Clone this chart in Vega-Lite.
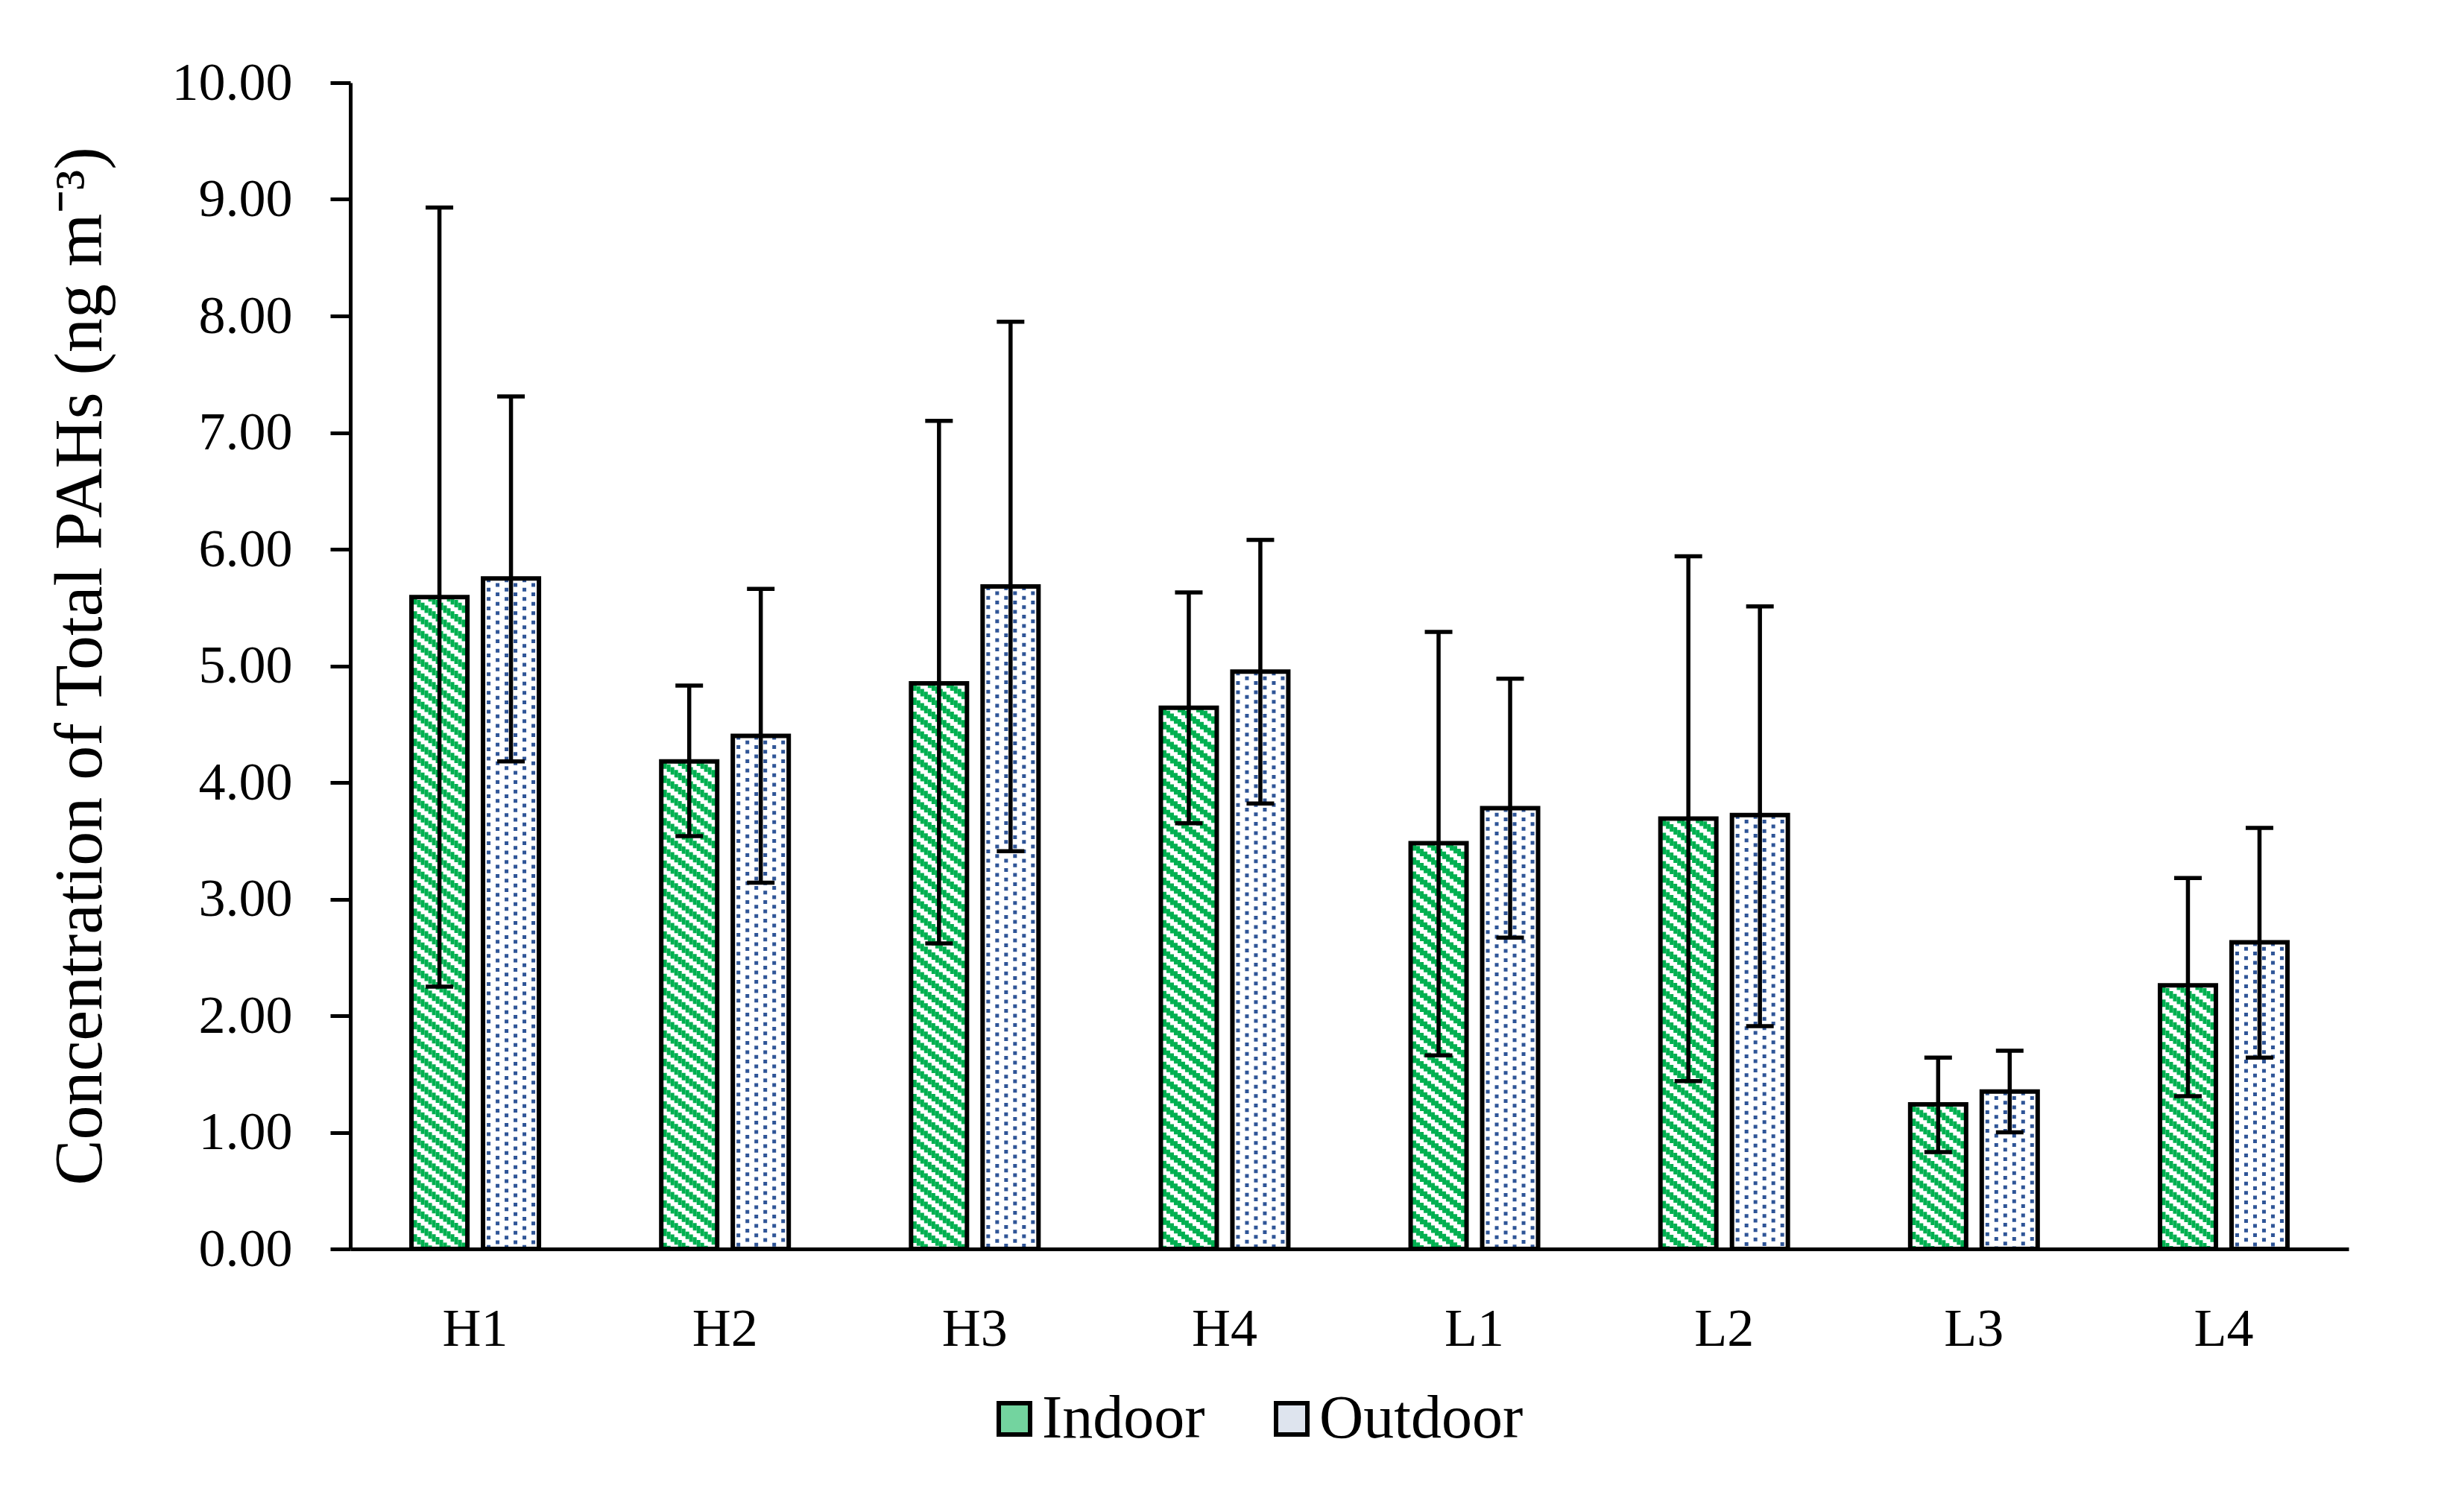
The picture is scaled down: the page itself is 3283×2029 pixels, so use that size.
{
  "$schema": "https://vega.github.io/schema/vega-lite/v6.json",
  "width": 2681,
  "height": 1565,
  "autosize": {"type": "none"},
  "padding": {"left": 470, "top": 111, "right": 132, "bottom": 353},
  "background": "white",
  "data": {
    "values": [
      {"site": "H1", "type": "Indoor", "mean": 5.59, "lo": 2.25, "hi": 8.93},
      {"site": "H1", "type": "Outdoor", "mean": 5.75, "lo": 4.18, "hi": 7.31},
      {"site": "H2", "type": "Indoor", "mean": 4.18, "lo": 3.54, "hi": 4.83},
      {"site": "H2", "type": "Outdoor", "mean": 4.40, "lo": 3.14, "hi": 5.66},
      {"site": "H3", "type": "Indoor", "mean": 4.85, "lo": 2.62, "hi": 7.10},
      {"site": "H3", "type": "Outdoor", "mean": 5.68, "lo": 3.41, "hi": 7.95},
      {"site": "H4", "type": "Indoor", "mean": 4.64, "lo": 3.65, "hi": 5.63},
      {"site": "H4", "type": "Outdoor", "mean": 4.95, "lo": 3.82, "hi": 6.08},
      {"site": "L1", "type": "Indoor", "mean": 3.48, "lo": 1.66, "hi": 5.29},
      {"site": "L1", "type": "Outdoor", "mean": 3.78, "lo": 2.67, "hi": 4.89},
      {"site": "L2", "type": "Indoor", "mean": 3.69, "lo": 1.44, "hi": 5.94},
      {"site": "L2", "type": "Outdoor", "mean": 3.72, "lo": 1.91, "hi": 5.51},
      {"site": "L3", "type": "Indoor", "mean": 1.24, "lo": 0.83, "hi": 1.64},
      {"site": "L3", "type": "Outdoor", "mean": 1.35, "lo": 1.00, "hi": 1.70},
      {"site": "L4", "type": "Indoor", "mean": 2.26, "lo": 1.31, "hi": 3.18},
      {"site": "L4", "type": "Outdoor", "mean": 2.63, "lo": 1.64, "hi": 3.61}
    ]
  },
  "encoding": {
    "x": {
      "field": "site", "type": "nominal", "sort": null,
      "scale": {"paddingInner": 0.5, "paddingOuter": 0.25},
      "axis": {"title": null, "ticks": false, "labelPadding": 72, "labelAngle": 0}
    },
    "y": {
      "field": "mean", "type": "quantitative",
      "scale": {"domain": [0, 10], "nice": false, "zero": true},
      "title": "Concentration of Total PAHs (ng m⁻³)",
      "axis": {
        "values": [0, 1, 2, 3, 4, 5, 6, 7, 8, 9, 10],
        "format": ".2f", "tickSize": 27, "labelPadding": 51,
        "titleFontSize": 92, "titleFontWeight": "normal", "titlePadding": 116
      }
    }
  },
  "layer": [
    {"transform": [{"filter": "datum.type === 'Indoor'"}], "mark": {"type": "rule", "color": "#00b050", "strokeWidth": 5, "strokeDash": [10, 9], "strokeDashOffset": 0, "xOffset": -80.5}, "encoding": {"y2": {"datum": 0}}},
    {"transform": [{"filter": "datum.type === 'Indoor'"}], "mark": {"type": "rule", "color": "#00b050", "strokeWidth": 5, "strokeDash": [10, 9], "strokeDashOffset": 15.2, "xOffset": -75.5}, "encoding": {"y2": {"datum": 0}}},
    {"transform": [{"filter": "datum.type === 'Indoor'"}], "mark": {"type": "rule", "color": "#00b050", "strokeWidth": 5, "strokeDash": [10, 9], "strokeDashOffset": 11.4, "xOffset": -70.5}, "encoding": {"y2": {"datum": 0}}},
    {"transform": [{"filter": "datum.type === 'Indoor'"}], "mark": {"type": "rule", "color": "#00b050", "strokeWidth": 5, "strokeDash": [10, 9], "strokeDashOffset": 7.6, "xOffset": -65.5}, "encoding": {"y2": {"datum": 0}}},
    {"transform": [{"filter": "datum.type === 'Indoor'"}], "mark": {"type": "rule", "color": "#00b050", "strokeWidth": 5, "strokeDash": [10, 9], "strokeDashOffset": 3.8, "xOffset": -60.5}, "encoding": {"y2": {"datum": 0}}},
    {"transform": [{"filter": "datum.type === 'Indoor'"}], "mark": {"type": "rule", "color": "#00b050", "strokeWidth": 5, "strokeDash": [10, 9], "strokeDashOffset": 0, "xOffset": -55.5}, "encoding": {"y2": {"datum": 0}}},
    {"transform": [{"filter": "datum.type === 'Indoor'"}], "mark": {"type": "rule", "color": "#00b050", "strokeWidth": 5, "strokeDash": [10, 9], "strokeDashOffset": 15.2, "xOffset": -50.5}, "encoding": {"y2": {"datum": 0}}},
    {"transform": [{"filter": "datum.type === 'Indoor'"}], "mark": {"type": "rule", "color": "#00b050", "strokeWidth": 5, "strokeDash": [10, 9], "strokeDashOffset": 11.4, "xOffset": -45.5}, "encoding": {"y2": {"datum": 0}}},
    {"transform": [{"filter": "datum.type === 'Indoor'"}], "mark": {"type": "rule", "color": "#00b050", "strokeWidth": 5, "strokeDash": [10, 9], "strokeDashOffset": 7.6, "xOffset": -40.5}, "encoding": {"y2": {"datum": 0}}},
    {"transform": [{"filter": "datum.type === 'Indoor'"}], "mark": {"type": "rule", "color": "#00b050", "strokeWidth": 5, "strokeDash": [10, 9], "strokeDashOffset": 3.8, "xOffset": -35.5}, "encoding": {"y2": {"datum": 0}}},
    {"transform": [{"filter": "datum.type === 'Indoor'"}], "mark": {"type": "rule", "color": "#00b050", "strokeWidth": 5, "strokeDash": [10, 9], "strokeDashOffset": 0, "xOffset": -30.5}, "encoding": {"y2": {"datum": 0}}},
    {"transform": [{"filter": "datum.type === 'Indoor'"}], "mark": {"type": "rule", "color": "#00b050", "strokeWidth": 5, "strokeDash": [10, 9], "strokeDashOffset": 15.2, "xOffset": -25.5}, "encoding": {"y2": {"datum": 0}}},
    {"transform": [{"filter": "datum.type === 'Indoor'"}], "mark": {"type": "rule", "color": "#00b050", "strokeWidth": 5, "strokeDash": [10, 9], "strokeDashOffset": 11.4, "xOffset": -20.5}, "encoding": {"y2": {"datum": 0}}},
    {"transform": [{"filter": "datum.type === 'Indoor'"}], "mark": {"type": "rule", "color": "#00b050", "strokeWidth": 5, "strokeDash": [10, 9], "strokeDashOffset": 7.6, "xOffset": -15.5}, "encoding": {"y2": {"datum": 0}}},
    {"transform": [{"filter": "datum.type === 'Outdoor'"}], "mark": {"type": "rule", "color": "#2f5597", "strokeWidth": 5, "strokeDash": [5, 7.6], "strokeDashOffset": 0, "xOffset": 18}, "encoding": {"y2": {"datum": 0}}},
    {"transform": [{"filter": "datum.type === 'Outdoor'"}], "mark": {"type": "rule", "color": "#2f5597", "strokeWidth": 5, "strokeDash": [5, 7.6], "strokeDashOffset": 6.3, "xOffset": 30}, "encoding": {"y2": {"datum": 0}}},
    {"transform": [{"filter": "datum.type === 'Outdoor'"}], "mark": {"type": "rule", "color": "#2f5597", "strokeWidth": 5, "strokeDash": [5, 7.6], "strokeDashOffset": 0, "xOffset": 42}, "encoding": {"y2": {"datum": 0}}},
    {"transform": [{"filter": "datum.type === 'Outdoor'"}], "mark": {"type": "rule", "color": "#2f5597", "strokeWidth": 5, "strokeDash": [5, 7.6], "strokeDashOffset": 6.3, "xOffset": 54}, "encoding": {"y2": {"datum": 0}}},
    {"transform": [{"filter": "datum.type === 'Outdoor'"}], "mark": {"type": "rule", "color": "#2f5597", "strokeWidth": 5, "strokeDash": [5, 7.6], "strokeDashOffset": 0, "xOffset": 66}, "encoding": {"y2": {"datum": 0}}},
    {"transform": [{"filter": "datum.type === 'Outdoor'"}], "mark": {"type": "rule", "color": "#2f5597", "strokeWidth": 5, "strokeDash": [5, 7.6], "strokeDashOffset": 6.3, "xOffset": 78}, "encoding": {"y2": {"datum": 0}}},
    {
      "transform": [{"filter": "datum.type === 'Indoor'"}],
      "mark": {"type": "bar", "width": 75, "fill": "transparent", "stroke": "black", "strokeWidth": 6, "xOffset": -48},
      "encoding": {"y2": {"datum": 0}}
    },
    {
      "transform": [{"filter": "datum.type === 'Outdoor'"}],
      "mark": {"type": "bar", "width": 75, "fill": "transparent", "stroke": "black", "strokeWidth": 6, "xOffset": 48},
      "encoding": {"y2": {"datum": 0}}
    },
    {
      "mark": {"type": "point", "size": 0, "filled": true, "opacity": 0, "stroke": "black", "strokeWidth": 6, "shape": "square"},
      "encoding": {
        "fill": {
          "field": "type", "type": "nominal",
          "scale": {"domain": ["Indoor", "Outdoor"], "range": ["#73d49f", "#dee4ee"]},
          "legend": {
            "title": null, "orient": "none", "direction": "horizontal",
            "legendX": 850, "legendY": 1752, "padding": 0,
            "symbolType": "square", "symbolSize": 1764,
            "symbolStrokeColor": "black", "symbolStrokeWidth": 6, "symbolOpacity": 1,
            "labelFont": "Liberation Serif", "labelFontSize": 82, "labelColor": "black",
            "labelLimit": 0, "labelOffset": -4, "columnPadding": 75,
            "encode": {
              "symbols": {
                "update": {
                  "stroke": {"value": "black"},
                  "strokeWidth": {"value": 6},
                  "opacity": {"value": 1},
                  "strokeOpacity": {"value": 1},
                  "fillOpacity": {"value": 1}
                }
              }
            }
          }
        }
      }
    },
    {"transform": [{"filter": "datum.type === 'Indoor'"}], "mark": {"type": "rule", "color": "black", "strokeWidth": 5.5, "xOffset": -48}, "encoding": {"y": {"field": "lo", "type": "quantitative"}, "y2": {"field": "hi"}}},
    {"transform": [{"filter": "datum.type === 'Outdoor'"}], "mark": {"type": "rule", "color": "black", "strokeWidth": 5.5, "xOffset": 48}, "encoding": {"y": {"field": "lo", "type": "quantitative"}, "y2": {"field": "hi"}}},
    {"transform": [{"filter": "datum.type === 'Indoor'"}], "mark": {"type": "tick", "color": "black", "size": 37, "thickness": 5.5, "opacity": 1, "xOffset": -48}, "encoding": {"y": {"field": "lo", "type": "quantitative"}}},
    {"transform": [{"filter": "datum.type === 'Indoor'"}], "mark": {"type": "tick", "color": "black", "size": 37, "thickness": 5.5, "opacity": 1, "xOffset": -48}, "encoding": {"y": {"field": "hi", "type": "quantitative"}}},
    {"transform": [{"filter": "datum.type === 'Outdoor'"}], "mark": {"type": "tick", "color": "black", "size": 37, "thickness": 5.5, "opacity": 1, "xOffset": 48}, "encoding": {"y": {"field": "lo", "type": "quantitative"}}},
    {"transform": [{"filter": "datum.type === 'Outdoor'"}], "mark": {"type": "tick", "color": "black", "size": 37, "thickness": 5.5, "opacity": 1, "xOffset": 48}, "encoding": {"y": {"field": "hi", "type": "quantitative"}}}
  ],
  "config": {
    "view": {"stroke": null},
    "axis": {
      "domainColor": "black", "domainWidth": 5, "tickColor": "black", "tickWidth": 5,
      "labelColor": "black", "titleColor": "black",
      "labelFont": "Liberation Serif", "titleFont": "Liberation Serif",
      "labelFontSize": 72, "grid": false
    }
  }
}
